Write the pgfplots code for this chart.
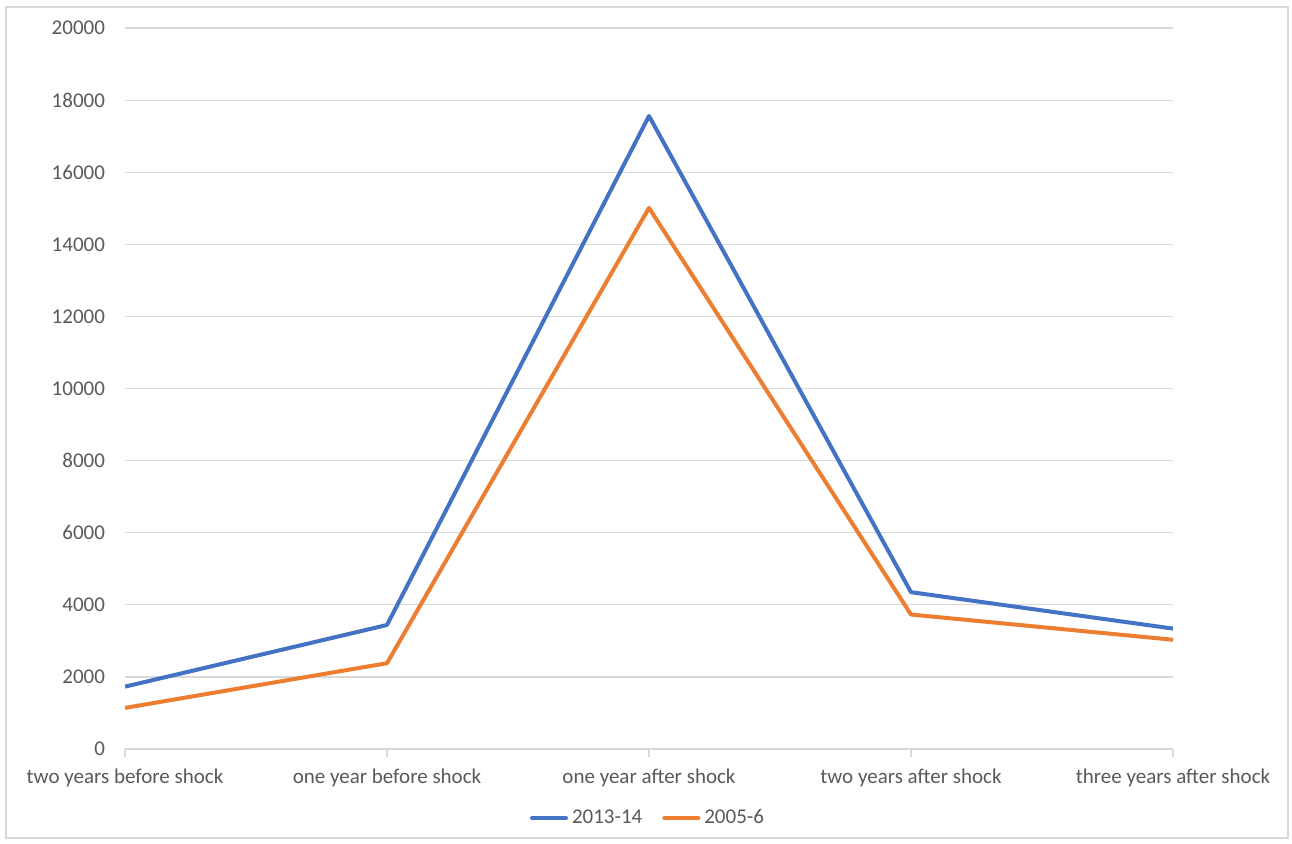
\documentclass[border=0pt]{standalone}
\usepackage{fontspec}
\setmainfont{Carlito}
\usepackage{pgfplots}
\pgfplotsset{compat=1.18}
\definecolor{cblue}{HTML}{4472C4}
\definecolor{corange}{HTML}{ED7D31}
\definecolor{cgrid}{HTML}{D9D9D9}
\definecolor{ctext}{HTML}{595959}
\begin{document}
\begin{tikzpicture}[x=1pt,y=1pt]
\path[use as bounding box] (-62.5,-47) rectangle (583.5,374.5);
\draw[cgrid, line width=0.6pt] (-59.5,-44.5) rectangle (581.5,371);
\begin{axis}[
  at={(0,0)}, anchor=origin,
  scale only axis, width=524pt, height=360.5pt,
  xmin=0, xmax=4, ymin=0, ymax=20000,
  xtick={0,1,2,3,4},
  xticklabels={two years before shock, one year before shock, one year after shock, two years after shock, three years after shock},
  ytick={0,2000,...,20000},
  ymajorgrids, grid style={cgrid, line width=0.6pt},
  axis x line*=bottom, axis y line*=left,
  x axis line style={cgrid, line width=0.6pt, -},
  y axis line style={draw=none},
  xtick style={cgrid, line width=0.6pt},
  tick align=outside, major tick length=4pt,
  ytick style={draw=none},
  ticklabel style={font=\fontsize{10.5}{12}\selectfont, text=ctext},
  /pgf/number format/assume math mode=true,
  scaled y ticks=false,
  yticklabel style={/pgf/number format/1000 sep={}},
  xticklabel style={yshift=-2.5pt},
  yticklabel style={xshift=-2.5pt},
  legend style={at={(0.5,0)}, anchor=center, yshift=-34.5pt, draw=none, fill=none,
    legend columns=2, font=\fontsize{10.5}{12}\selectfont, text=ctext,
    /tikz/every even column/.append style={column sep=8pt},
    /tikz/every odd column/.append style={inner xsep=1pt}},
  legend image code/.code={\draw[#1, line cap=round] (0pt,0pt) -- (17pt,0pt);},
  every axis plot/.append style={line width=2pt, line join=round},
]
\addplot[cblue, mark=none] coordinates {(0,1730) (1,3440) (2,17560) (3,4350) (4,3340)};
\addlegendentry{2013-14}
\addplot[corange, mark=none] coordinates {(0,1140) (1,2380) (2,15010) (3,3730) (4,3030)};
\addlegendentry{2005-6}
\end{axis}
\end{tikzpicture}
\end{document}
